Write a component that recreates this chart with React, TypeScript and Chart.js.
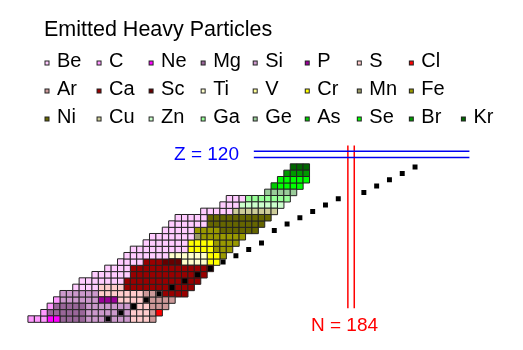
import React, { useEffect, useRef } from 'react';
import { Chart, registerables } from 'chart.js';

Chart.register(...registerables);

// Emitted cluster species (legend order) and colours
const elementNames = ['Be', 'C', 'Ne', 'Mg', 'Si', 'P', 'S', 'Cl', 'Ar', 'Ca', 'Sc', 'Ti', 'V', 'Cr', 'Mn', 'Fe', 'Ni', 'Cu', 'Zn', 'Ga', 'Ge', 'As', 'Se', 'Br', 'Kr'];
const elementColors = ['#ffccff', '#ff99ff', '#ff00ff', '#996699', '#cc99cc', '#990099', '#ffcccc', '#ff0000', '#cc9999', '#990000', '#660000', '#ffffcc', '#ffff99', '#ffff00', '#999966', '#999900', '#666600', '#cccc99', '#ccffcc', '#99ff99', '#99cc99', '#00cc00', '#00ff00', '#009900', '#006600'];

// Parent nuclei: proton number of each row, first neutron number, and emitted cluster runs
const rowZ = [94, 95, 96, 97, 98, 99, 100, 101, 102, 103, 104, 105, 106, 107, 108, 109, 110, 111, 112, 113, 114, 115, 116, 117, 118];
const rowFirstN = [134, 136, 137, 138, 139, 141, 142, 144, 146, 148, 149, 150, 152, 153, 155, 156, 157, 161, 164, 165, 171, 172, 173, 174, 175];
const rowEmitted = [
  'C*3 Ne*2 Mg*4 Si*7 S*3 Ar*1',
  'C*1 Mg*6 Si*7 S*3 Ar*1 Cl*1',
  'C*1 Mg*5 Si*7 S*3 Ar*3',
  'C*1 Si*6 P*3 S*4 Ar*5',
  'Si*6 S*7 Ar*3 Ca*4',
  'Be*4 S*4 Ca*11',
  'Be*7 Ca*12',
  'Be*6 Ca*12',
  'Be*4 Ca*13',
  'Be*4 Ca*3 Sc*3 Ti*4 Cr*2',
  'Be*7 Ti*6 Cr*2 Fe*1',
  'Be*9 Cr*4 Fe*3',
  'Be*7 Cr*4 Fe*4',
  'Be*7 Mn*1 Fe*7',
  'Be*5 Fe*4 Ni*6',
  'Be*6 Ni*9',
  'Be*5 Ni*10',
  'Be*5 Cu*7',
  'Be*3 Zn*7',
  'Be*3 Ga*7',
  'Ge*5',
  'As*1 Se*4',
  'Se*5',
  'Br*4',
  'Kr*3',
];

// Black marker squares
const markerN = [146, 148, 150, 152, 154, 156, 158, 160, 162, 164, 166, 168, 170, 172, 174, 176, 178, 180, 182, 186, 188, 190, 192, 194];
const markerZ = [94, 95, 96, 97, 98, 99, 100, 101, 102, 103, 104, 105, 106, 108, 109, 110, 111, 112, 113, 114, 115, 116, 117, 118];

// Magic number guide lines
const zMagic = 120;
const zLineN = [168.8, 202.5];
const nMagic = 184;
const nLineZ = [95.7, 121.4];

const legendTitle = 'Emitted Heavy Particles';
const zLabel = 'Z = 120';
const nLabel = 'N = 184';

function buildCells() {
  const cells: { x: number; y: number }[][] = elementNames.map(() => []);
  rowZ.forEach((z, r) => {
    let n = rowFirstN[r];
    rowEmitted[r].split(' ').forEach((run) => {
      const [el, cnt] = run.split('*');
      const idx = elementNames.indexOf(el);
      for (let k = 0; k < Number(cnt); k++) {
        cells[idx].push({ x: n, y: z });
        n++;
      }
    });
  });
  return cells;
}

const FONT = '"Liberation Sans", Arial, Helvetica, sans-serif';

const overlayPlugin = {
  id: 'overlay',
  afterDraw(chart: any) {
    const ctx = chart.ctx as CanvasRenderingContext2D;
    ctx.save();
    ctx.textBaseline = 'alphabetic';
    ctx.fillStyle = '#000';
    ctx.font = '21.5px ' + FONT;
    ctx.fillText(legendTitle, 44, 36);
    ctx.font = '20px ' + FONT;
    const baselines = [66.5, 94.5, 122.5];
    elementNames.forEach((name, i) => {
      const row = i < 8 ? 0 : i < 16 ? 1 : 2;
      const col = i - row * 8;
      const bx = 44.5 + 52.05 * col;
      const by = baselines[row] - 6;
      ctx.fillStyle = '#222';
      ctx.fillRect(bx, by, 5, 5);
      ctx.fillStyle = elementColors[i];
      ctx.fillRect(bx + 1, by + 1, 3, 3);
      ctx.fillStyle = '#000';
      ctx.fillText(name, bx + 12.5, baselines[row]);
    });
    ctx.font = '19px ' + FONT;
    ctx.fillStyle = '#0000ff';
    ctx.fillText(zLabel, 174, 160);
    ctx.fillStyle = '#ff0000';
    ctx.fillText(nLabel, 311, 330.5);
    ctx.restore();
  },
};

export default function App() {
  const ref = useRef<HTMLCanvasElement | null>(null);
  useEffect(() => {
    if (!ref.current) return;
    const cells = buildCells();
    const datasets: any[] = [];
    datasets.push({
      type: 'scatter',
      label: 'markers',
      data: markerN.map((n, i) => ({ x: n, y: markerZ[i] })),
      pointStyle: 'rect',
      pointRadius: 3.5,
      pointHoverRadius: 3.5,
      backgroundColor: '#000',
      borderColor: '#000',
      borderWidth: 0,
      order: 0,
    });
    elementNames.forEach((name, i) => {
      datasets.push({
        type: 'scatter',
        label: name,
        data: cells[i],
        pointStyle: 'rect',
        pointRadius: 6.5 / Math.SQRT2,
        pointHoverRadius: 6.5 / Math.SQRT2,
        backgroundColor: elementColors[i],
        borderColor: '#222',
        borderWidth: 1,
        order: 1,
      });
    });
    const lineDs = (pts: { x: number; y: number }[], color: string) => ({
      type: 'line',
      label: 'guide',
      data: pts,
      borderColor: color,
      borderWidth: 1.5,
      pointRadius: 0,
      fill: false,
      order: 2,
    });
    datasets.push(lineDs(zLineN.map((n) => ({ x: n, y: zMagic + 0.5 })), '#0000ee'));
    datasets.push(lineDs(zLineN.map((n) => ({ x: n, y: zMagic - 0.5 })), '#0000ee'));
    datasets.push(lineDs(nLineZ.map((z) => ({ x: nMagic - 0.5, y: z })), '#ff0000'));
    datasets.push(lineDs(nLineZ.map((z) => ({ x: nMagic + 0.5, y: z })), '#ff0000'));

    const chart = new Chart(ref.current, {
      type: 'scatter',
      data: { datasets },
      options: {
        animation: false,
        responsive: false,
        events: [],
        layout: { padding: { left: 0.25, right: 2.75, top: 1, bottom: 1.25 } },
        scales: {
          x: { type: 'linear', min: 130, max: 210, display: false },
          y: { type: 'linear', min: 90, max: 143.5, display: false },
        },
        plugins: { legend: { display: false }, tooltip: { enabled: false } },
      },
      plugins: [overlayPlugin],
    } as any);
    return () => chart.destroy();
  }, []);
  return (
    <div style={{ position: 'fixed', left: 0, top: 0, width: 523, height: 350, background: '#fff' }}>
      <canvas ref={ref} width={523} height={350} style={{ display: 'block' }} />
    </div>
  );
}
